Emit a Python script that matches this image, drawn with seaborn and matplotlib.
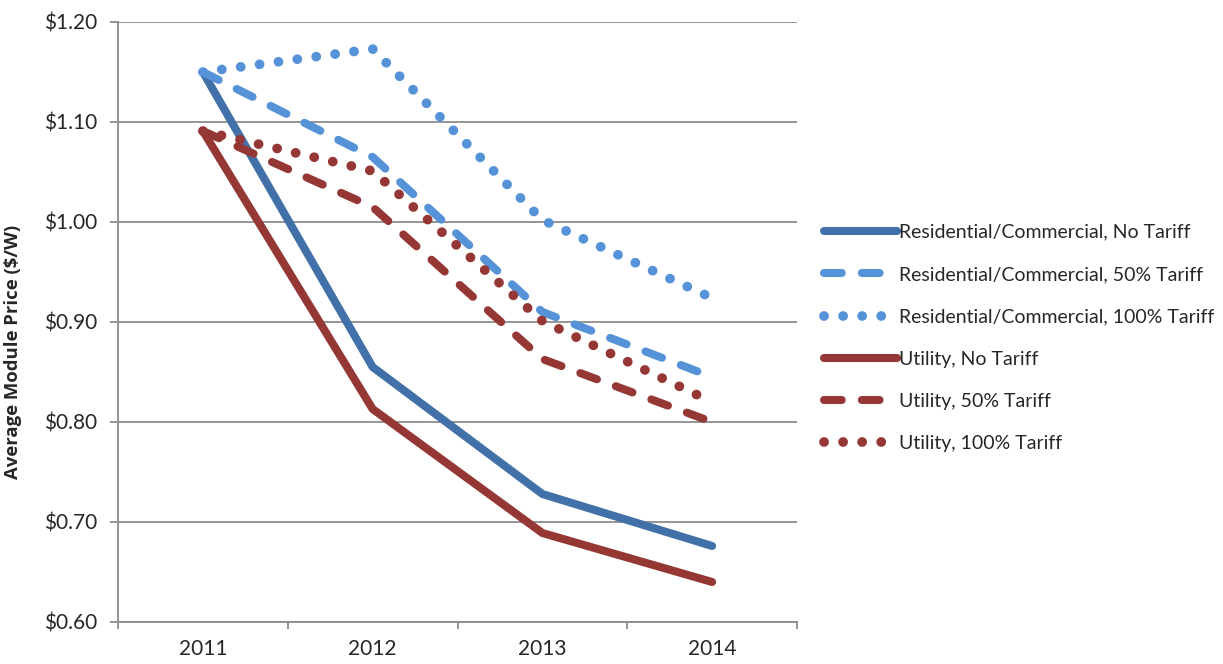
import numpy as np
import pandas as pd
import matplotlib
matplotlib.use("Agg")
import matplotlib.pyplot as plt
import seaborn as sns
from matplotlib.ticker import FuncFormatter, FixedLocator

years = [2011, 2012, 2013, 2014]
series_names = [
    "Residential/Commercial, No Tariff",
    "Residential/Commercial, 50% Tariff",
    "Residential/Commercial, 100% Tariff",
    "Utility, No Tariff",
    "Utility, 50% Tariff",
    "Utility, 100% Tariff",
]
res_no_tariff = [1.150, 0.855, 0.728, 0.676]
res_50_tariff = [1.150, 1.065, 0.910, 0.845]
res_100_tariff = [1.150, 1.173, 1.002, 0.924]
util_no_tariff = [1.091, 0.813, 0.689, 0.640]
util_50_tariff = [1.091, 1.015, 0.863, 0.800]
util_100_tariff = [1.091, 1.051, 0.901, 0.820]
yticks = [0.60, 0.70, 0.80, 0.90, 1.00, 1.10, 1.20]

all_vals = [res_no_tariff, res_50_tariff, res_100_tariff,
            util_no_tariff, util_50_tariff, util_100_tariff]
df = pd.DataFrame({
    "Year": years * len(series_names),
    "Price": [v for s in all_vals for v in s],
    "Series": [n for n in series_names for _ in years],
})

sns.set_style("white")
plt.rcParams["font.family"] = ["Lato", "DejaVu Sans"]
plt.rcParams["lines.dash_capstyle"] = "round"
plt.rcParams["lines.solid_capstyle"] = "round"

blue_dark = "#4270A8"
blue_light = "#5592D8"
red = "#953735"
palette = {
    series_names[0]: blue_dark,
    series_names[1]: blue_light,
    series_names[2]: blue_light,
    series_names[3]: red,
    series_names[4]: red,
    series_names[5]: red,
}
LW = 5.8
DOT_LW = 7.0
dash = (2.2, 2.5)
dot = (0.01, 1.95)
dashes = {
    series_names[0]: "",
    series_names[1]: dash,
    series_names[2]: dot,
    series_names[3]: "",
    series_names[4]: dash,
    series_names[5]: dot,
}

fig = plt.figure(figsize=(12.23, 6.64), dpi=100)
ax = fig.add_axes([118 / 1223, 1 - 622 / 664, (797 - 118) / 1223, (622 - 22) / 664])

sns.lineplot(data=df, x="Year", y="Price", hue="Series", style="Series",
             palette=palette, dashes=dashes, hue_order=series_names,
             style_order=series_names, linewidth=LW, ax=ax, legend=True)

handles, labels = ax.get_legend_handles_labels()
ax.get_legend().remove()

dot_idx = {2, 5}
for i, line in enumerate(ax.get_lines()[:len(series_names)]):
    if i in dot_idx:
        line.set_linewidth(DOT_LW)
        line.set_dashes((0.01, 1.95))

ax.set_xlim(2010.5, 2014.5)
ax.set_ylim(0.60, 1.20)
ax.set_yticks(yticks)
ax.yaxis.set_major_formatter(FuncFormatter(lambda v, p: f"${v:.2f}"))
ax.set_xticks(years)
ax.set_xticklabels([str(y) for y in years])
ax.xaxis.set_minor_locator(FixedLocator([2010.5, 2011.5, 2012.5, 2013.5, 2014.5]))

grid_color = "#8C8C8C"
ax.grid(axis="y", color=grid_color, linewidth=1.3)
ax.set_axisbelow(True)
for side in ["top", "right"]:
    ax.spines[side].set_visible(False)
for side in ["left", "bottom"]:
    ax.spines[side].set_color(grid_color)
    ax.spines[side].set_linewidth(1.3)

ax.tick_params(axis="y", which="major", length=6, width=1.3, color=grid_color,
               labelsize=15, pad=9, direction="out", left=True)
ax.tick_params(axis="x", which="major", length=0, labelsize=15, pad=12)
ax.tick_params(axis="x", which="minor", length=5, width=1.3, color=grid_color,
               direction="out", bottom=True)

ax.set_xlabel("")
ax.set_ylabel("Average Module Price ($/W)", fontsize=13.3, fontweight="bold",
              family=["Open Sans", "DejaVu Sans"])
ax.yaxis.set_label_coords(-0.141, 0.45)

leg = fig.legend(handles, labels, loc="center left",
                 bbox_to_anchor=(816 / 1223, 1 - 338 / 664),
                 frameon=False, fontsize=14, handlelength=3.75,
                 handletextpad=0.12, labelspacing=1.3, borderaxespad=0)
for i, h in enumerate(leg.get_lines()):
    if i in dot_idx:
        h.set_linewidth(DOT_LW)
    else:
        h.set_linewidth(LW)

fig.savefig("out.png", dpi=100)
